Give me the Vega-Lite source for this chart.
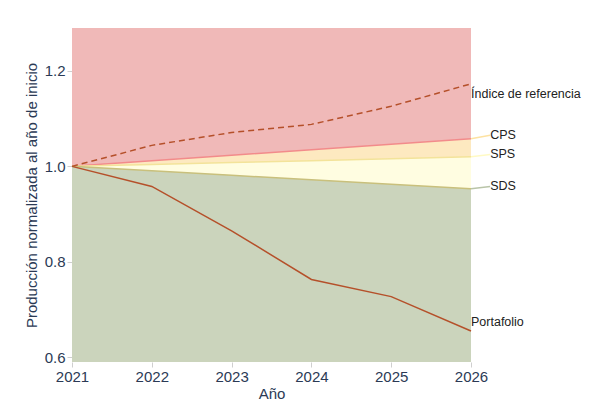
{
  "$schema": "https://vega.github.io/schema/vega-lite/v6.json",
  "autosize": {"type": "none"},
  "width": 399,
  "height": 334,
  "padding": {"left": 72, "top": 28, "right": 137, "bottom": 47},
  "background": "white",
  "config": {
    "view": {"stroke": null},
    "font": "Liberation Sans",
    "axis": {"grid": false, "domain": false, "tickColor": "#cfcfcf", "tickSize": 5, "labelColor": "#2b3a55", "titleColor": "#2b3a55", "labelFontSize": 15, "titleFontSize": 15, "titleFontWeight": "normal", "labelFlush": false}
  },
  "datasets": {
    "series": [
      {"year": 2021, "cps": 1.0, "sps": 1.0, "sds": 1.0, "idx": 1.0, "port": 1.0},
      {"year": 2022, "cps": 1.0116, "sps": 1.004, "sds": 0.9906, "idx": 1.044, "port": 0.958},
      {"year": 2023, "cps": 1.0232, "sps": 1.008, "sds": 0.9812, "idx": 1.071, "port": 0.865},
      {"year": 2024, "cps": 1.0348, "sps": 1.012, "sds": 0.9718, "idx": 1.088, "port": 0.763},
      {"year": 2025, "cps": 1.0464, "sps": 1.016, "sds": 0.9624, "idx": 1.126, "port": 0.727},
      {"year": 2026, "cps": 1.058, "sps": 1.020, "sds": 0.953, "idx": 1.173, "port": 0.655}
    ],
    "labels": [
      {"name": "Índice de referencia", "x": 2026.0, "y": 1.152, "lx": 2026.0, "ly": 1.152, "lead": "none"},
      {"name": "CPS", "x": 2026.24, "y": 1.065, "lx": 2026.0, "ly": 1.058, "lead": "#fde2a2"},
      {"name": "SPS", "x": 2026.24, "y": 1.025, "lx": 2026.0, "ly": 1.020, "lead": "#fffac4"},
      {"name": "SDS", "x": 2026.24, "y": 0.958, "lx": 2026.0, "ly": 0.953, "lead": "#b9c4a8"},
      {"name": "Portafolio", "x": 2026.0, "y": 0.674, "lx": 2026.0, "ly": 0.674, "lead": "none"}
    ]
  },
  "layer": [
    {
      "data": {"name": "series"},
      "mark": {"type": "area", "color": "#f0b9b8", "clip": true},
      "encoding": {
        "x": {"field": "year", "type": "quantitative", "scale": {"domain": [2021, 2026], "nice": false}, "axis": {"values": [2021, 2022, 2023, 2024, 2025, 2026], "format": "d", "title": "Año", "labelPadding": 2, "titlePadding": 2}},
        "y": {"field": "cps", "type": "quantitative", "scale": {"domain": [0.59, 1.29], "nice": false, "zero": false}, "axis": {"values": [0.6, 0.8, 1.0, 1.2], "format": ".1f", "title": "Producción normalizada al año de inicio", "titlePadding": 5, "labelPadding": 2}},
        "y2": {"datum": 1.29}
      }
    },
    {
      "data": {"name": "series"},
      "mark": {"type": "area", "color": "#fde9c0"},
      "encoding": {"x": {"field": "year", "type": "quantitative"}, "y": {"field": "sps", "type": "quantitative"}, "y2": {"field": "cps"}}
    },
    {
      "data": {"name": "series"},
      "mark": {"type": "area", "color": "#fffde1"},
      "encoding": {"x": {"field": "year", "type": "quantitative"}, "y": {"field": "sds", "type": "quantitative"}, "y2": {"field": "sps"}}
    },
    {
      "data": {"name": "series"},
      "mark": {"type": "area", "color": "#cbd4bc", "clip": true},
      "encoding": {"x": {"field": "year", "type": "quantitative"}, "y": {"field": "sds", "type": "quantitative"}, "y2": {"datum": 0.59}}
    },
    {
      "data": {"name": "series"},
      "mark": {"type": "line", "color": "#f28b8b", "strokeWidth": 1.5},
      "encoding": {"x": {"field": "year", "type": "quantitative"}, "y": {"field": "cps", "type": "quantitative"}}
    },
    {
      "data": {"name": "series"},
      "mark": {"type": "line", "color": "#f3e39a", "strokeWidth": 1.5},
      "encoding": {"x": {"field": "year", "type": "quantitative"}, "y": {"field": "sps", "type": "quantitative"}}
    },
    {
      "data": {"name": "series"},
      "mark": {"type": "line", "color": "#c9c07c", "strokeWidth": 1.5},
      "encoding": {"x": {"field": "year", "type": "quantitative"}, "y": {"field": "sds", "type": "quantitative"}}
    },
    {
      "data": {"name": "series"},
      "mark": {"type": "line", "color": "#b5502a", "strokeWidth": 1.5, "strokeDash": [6, 4]},
      "encoding": {"x": {"field": "year", "type": "quantitative"}, "y": {"field": "idx", "type": "quantitative"}}
    },
    {
      "data": {"name": "series"},
      "mark": {"type": "line", "color": "#b5502a", "strokeWidth": 1.5},
      "encoding": {"x": {"field": "year", "type": "quantitative"}, "y": {"field": "port", "type": "quantitative"}}
    },
    {
      "data": {"name": "labels"},
      "transform": [{"filter": "datum.lead != 'none'"}],
      "mark": {"type": "rule", "strokeWidth": 1.5},
      "encoding": {
        "x": {"field": "lx", "type": "quantitative"},
        "x2": {"field": "x", "offset": -3},
        "y": {"field": "ly", "type": "quantitative"},
        "y2": {"field": "y"},
        "color": {"field": "lead", "type": "nominal", "scale": null}
      }
    },
    {
      "data": {"name": "labels"},
      "mark": {"type": "text", "align": "left", "baseline": "middle", "fontSize": 12.5, "color": "#222222", "font": "Liberation Sans"},
      "encoding": {
        "x": {"field": "x", "type": "quantitative"},
        "y": {"field": "y", "type": "quantitative"},
        "text": {"field": "name"}
      }
    }
  ]
}
